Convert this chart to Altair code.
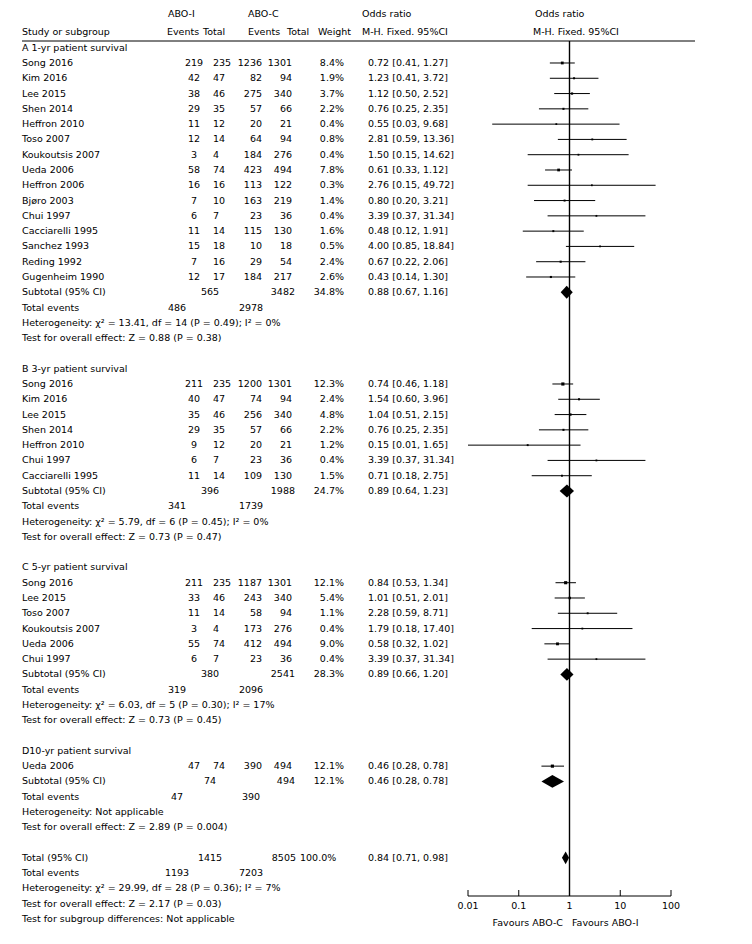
import altair as alt
import pandas as pd

# ---------------- data ----------------
headings = ["A 1-yr patient survival", "B 3-yr patient survival",
            "C 5-yr patient survival", "D10-yr patient survival"]

names_A = ["Song 2016", "Kim 2016", "Lee 2015", "Shen 2014", "Heffron 2010", "Toso 2007",
           "Koukoutsis 2007", "Ueda 2006", "Heffron 2006", "Bjøro 2003", "Chui 1997",
           "Cacciarelli 1995", "Sanchez 1993", "Reding 1992", "Gugenheim 1990"]
ev_i_A = [219, 42, 38, 29, 11, 12, 3, 58, 16, 7, 6, 11, 15, 7, 12]
tot_i_A = [235, 47, 46, 35, 12, 14, 4, 74, 16, 10, 7, 14, 18, 16, 17]
ev_c_A = [1236, 82, 275, 57, 20, 64, 184, 423, 113, 163, 23, 115, 10, 29, 184]
tot_c_A = [1301, 94, 340, 66, 21, 94, 276, 494, 122, 219, 36, 130, 18, 54, 217]
w_A = [8.4, 1.9, 3.7, 2.2, 0.4, 0.8, 0.4, 7.8, 0.3, 1.4, 0.4, 1.6, 0.5, 2.4, 2.6]
or_A = [0.72, 1.23, 1.12, 0.76, 0.55, 2.81, 1.50, 0.61, 2.76, 0.80, 3.39, 0.48, 4.00, 0.67, 0.43]
lo_A = [0.41, 0.41, 0.50, 0.25, 0.03, 0.59, 0.15, 0.33, 0.15, 0.20, 0.37, 0.12, 0.85, 0.22, 0.14]
hi_A = [1.27, 3.72, 2.52, 2.35, 9.68, 13.36, 14.62, 1.12, 49.72, 3.21, 31.34, 1.91, 18.84, 2.06, 1.30]

names_B = ["Song 2016", "Kim 2016", "Lee 2015", "Shen 2014", "Heffron 2010", "Chui 1997",
           "Cacciarelli 1995"]
ev_i_B = [211, 40, 35, 29, 9, 6, 11]
tot_i_B = [235, 47, 46, 35, 12, 7, 14]
ev_c_B = [1200, 74, 256, 57, 20, 23, 109]
tot_c_B = [1301, 94, 340, 66, 21, 36, 130]
w_B = [12.3, 2.4, 4.8, 2.2, 1.2, 0.4, 1.5]
or_B = [0.74, 1.54, 1.04, 0.76, 0.15, 3.39, 0.71]
lo_B = [0.46, 0.60, 0.51, 0.25, 0.01, 0.37, 0.18]
hi_B = [1.18, 3.96, 2.15, 2.35, 1.65, 31.34, 2.75]

names_C = ["Song 2016", "Lee 2015", "Toso 2007", "Koukoutsis 2007", "Ueda 2006", "Chui 1997"]
ev_i_C = [211, 33, 11, 3, 55, 6]
tot_i_C = [235, 46, 14, 4, 74, 7]
ev_c_C = [1187, 243, 58, 173, 412, 23]
tot_c_C = [1301, 340, 94, 276, 494, 36]
w_C = [12.1, 5.4, 1.1, 0.4, 9.0, 0.4]
or_C = [0.84, 1.01, 2.28, 1.79, 0.58, 3.39]
lo_C = [0.53, 0.51, 0.59, 0.18, 0.32, 0.37]
hi_C = [1.34, 2.01, 8.71, 17.40, 1.02, 31.34]

names_D = ["Ueda 2006"]
ev_i_D = [47]
tot_i_D = [74]
ev_c_D = [390]
tot_c_D = [494]
w_D = [12.1]
or_D = [0.46]
lo_D = [0.28]
hi_D = [0.78]

# subtotals: A, B, C, D, Overall
sub_tot_i = [565, 396, 380, 74, 1415]
sub_tot_c = [3482, 1988, 2541, 494, 8505]
sub_w = [34.8, 24.7, 28.3, 12.1, 100.0]
sub_or = [0.88, 0.89, 0.89, 0.46, 0.84]
sub_lo = [0.67, 0.64, 0.66, 0.28, 0.71]
sub_hi = [1.16, 1.23, 1.20, 0.78, 0.98]
te_i = [486, 341, 319, 47, 1193]
te_c = [2978, 1739, 2096, 390, 7203]
het_txt = ["Heterogeneity: χ² = 13.41, df = 14 (P = 0.49); I² = 0%",
           "Heterogeneity: χ² = 5.79, df = 6 (P = 0.45); I² = 0%",
           "Heterogeneity: χ² = 6.03, df = 5 (P = 0.30); I² = 17%",
           "Heterogeneity: Not applicable",
           "Heterogeneity: χ² = 29.99, df = 28 (P = 0.36); I² = 7%"]
test_txt = ["Test for overall effect: Z = 0.88 (P = 0.38)",
            "Test for overall effect: Z = 0.73 (P = 0.47)",
            "Test for overall effect: Z = 0.73 (P = 0.45)",
            "Test for overall effect: Z = 2.89 (P = 0.004)",
            "Test for overall effect: Z = 2.17 (P = 0.03)"]
subgroup_txt = "Test for subgroup differences: Not applicable"

tick_vals = [0.01, 0.1, 1, 10, 100]
tick_labels = ["0.01", "0.1", "1", "10", "100"]

groups = [
    (names_A, ev_i_A, tot_i_A, ev_c_A, tot_c_A, w_A, or_A, lo_A, hi_A),
    (names_B, ev_i_B, tot_i_B, ev_c_B, tot_c_B, w_B, or_B, lo_B, hi_B),
    (names_C, ev_i_C, tot_i_C, ev_c_C, tot_c_C, w_C, or_C, lo_C, hi_C),
    (names_D, ev_i_D, tot_i_D, ev_c_D, tot_c_D, w_D, or_D, lo_D, hi_D),
]

# ---------------- build tables ----------------
texts, cis, dia = [], [], []


def add(row, col, text):
    texts.append(dict(row=row, col=col, text=str(text)))


def ortxt(o, l, h):
    return f"{o:.2f} [{l:.2f}, {h:.2f}]"


def add_diamond(k, row, o, l, h, half=0.42):
    for xv, dy in [(l, 0.0), (o, half), (h, 0.0)]:
        dia.append(dict(g=k, x=xv, y=row - dy, y2=row + dy))


row = 0
for k, (nm, ei, ti, ec, tc, w, o, l, h) in enumerate(groups):
    add(row, "label", headings[k])
    row += 1
    for j in range(len(nm)):
        add(row, "label", nm[j])
        add(row, "ev_i", ei[j])
        add(row, "tot_i", ti[j])
        add(row, "ev_c", ec[j])
        add(row, "tot_c", tc[j])
        add(row, "w", f"{w[j]:.1f}%")
        add(row, "or", ortxt(o[j], l[j], h[j]))
        cis.append(dict(row=row, o=o[j], lo=l[j], hi=h[j], w=w[j]))
        row += 1
    add(row, "label", "Subtotal (95% CI)")
    add(row, "sub_tot_i", sub_tot_i[k])
    add(row, "sub_tot_c", sub_tot_c[k])
    add(row, "w", f"{sub_w[k]:.1f}%")
    add(row, "or", ortxt(sub_or[k], sub_lo[k], sub_hi[k]))
    add_diamond(k, row, sub_or[k], sub_lo[k], sub_hi[k])
    row += 1
    add(row, "label", "Total events")
    add(row, "te_i", te_i[k])
    add(row, "te_c", te_c[k])
    row += 1
    add(row, "label", het_txt[k])
    row += 1
    add(row, "label", test_txt[k])
    row += 2

k = 4
add(row, "label", "Total (95% CI)")
add(row, "sub_tot_i", sub_tot_i[k])
add(row, "tot_tot_c", sub_tot_c[k])
add(row, "tot_w", f"{sub_w[k]:.1f}%")
add(row, "or", ortxt(sub_or[k], sub_lo[k], sub_hi[k]))
add_diamond(k, row, sub_or[k], sub_lo[k], sub_hi[k])
row += 1
add(row, "label", "Total events")
add(row, "te_i", te_i[k])
add(row, "te_c", te_c[k])
row += 1
add(row, "label", het_txt[k])
row += 1
add(row, "label", test_txt[k])
row += 1
add(row, "label", subgroup_txt)
last_row = row

tdf = pd.DataFrame(texts)
cdf = pd.DataFrame(cis)
ddf = pd.DataFrame(dia)
tick_df = pd.DataFrame({"t": tick_vals, "lab": tick_labels})
axis_df = pd.DataFrame({"a": [0.01], "b": [100]})
null_df = pd.DataFrame({"one": [1]})
one = pd.DataFrame({"z": [0]})

# ---------------- layout ----------------
FONT = "DejaVu Sans"
FS = 9.5
OX, OY = 8, 8  # page margin

ysc = alt.Scale(domain=[0, last_row], range=[47.7 - OY, 919 - OY], nice=False, zero=False)
xsc = alt.Scale(type="log", domain=[0.01, 100], range=[468 - OX, 671 - OX], nice=False)

AXIS_Y = 896 - OY

layers = []


def col_layer(key, x, align):
    return (alt.Chart(tdf)
            .transform_filter(alt.datum.col == key)
            .mark_text(align=align, baseline="middle", font=FONT, fontSize=FS, color="black")
            .encode(x=alt.value(x - OX), y=alt.Y("row:Q", scale=ysc, axis=None), text="text:N"))


def label(txt, x, y, align="left"):
    return (alt.Chart(one)
            .mark_text(text=txt, align=align, baseline="middle", font=FONT, fontSize=FS, color="black")
            .encode(x=alt.value(x - OX), y=alt.value(y - OY)))


layers += [
    col_layer("label", 22, "left"),
    col_layer("ev_i", 194, "center"),
    col_layer("tot_i", 213, "left"),
    col_layer("ev_c", 262, "right"),
    col_layer("tot_c", 292, "right"),
    col_layer("w", 344, "right"),
    col_layer("or", 368, "left"),
    col_layer("sub_tot_i", 210, "center"),
    col_layer("sub_tot_c", 295, "right"),
    col_layer("tot_tot_c", 296, "right"),
    col_layer("te_i", 177, "center"),
    col_layer("te_c", 251, "center"),
    col_layer("tot_w", 300, "left"),
]

# header texts
layers += [
    label("ABO-I", 168, 14), label("ABO-C", 248, 14), label("Odds ratio", 362, 14),
    label("Odds ratio", 535, 14),
    label("Study or subgroup", 22, 32), label("Events", 167, 32), label("Total", 203, 32),
    label("Events", 248, 32), label("Total", 287, 32), label("Weight", 318, 32),
    label("M-H. Fixed. 95%CI", 362, 32), label("M-H. Fixed. 95%CI", 533, 32),
    label("Favours ABO-C", 563, 923, "right"), label("Favours ABO-I", 572, 923, "left"),
]

# header rule
layers.append(alt.Chart(one).mark_rule(color="black", strokeWidth=1)
              .encode(x=alt.value(22 - OX), x2=alt.value(695 - OX), y=alt.value(41 - OY)))

# null line at OR = 1
layers.append(alt.Chart(null_df).mark_rule(color="black", strokeWidth=1.4)
              .encode(x=alt.X("one:Q", scale=xsc, axis=None),
                      y=alt.value(41 - OY), y2=alt.value(AXIS_Y)))

# x axis line, ticks and labels (drawn through the log scale)
layers.append(alt.Chart(axis_df).mark_rule(color="black", strokeWidth=1)
              .encode(x=alt.X("a:Q", scale=xsc, axis=None), x2="b:Q", y=alt.value(AXIS_Y)))
layers.append(alt.Chart(tick_df).mark_rule(color="black", strokeWidth=1)
              .encode(x=alt.X("t:Q", scale=xsc, axis=None),
                      y=alt.value(AXIS_Y - 6), y2=alt.value(AXIS_Y)))
layers.append(alt.Chart(tick_df).mark_text(baseline="middle", align="center", font=FONT,
                                          fontSize=FS, color="black")
              .encode(x=alt.X("t:Q", scale=xsc, axis=None), y=alt.value(906 - OY), text="lab:N"))

# confidence intervals and study squares
layers.append(alt.Chart(cdf).mark_rule(color="black", strokeWidth=1)
              .encode(x=alt.X("lo:Q", scale=xsc, axis=None), x2="hi:Q",
                      y=alt.Y("row:Q", scale=ysc, axis=None)))
layers.append(alt.Chart(cdf).mark_square(filled=True, color="black", opacity=1)
              .encode(x=alt.X("o:Q", scale=xsc, axis=None),
                      y=alt.Y("row:Q", scale=ysc, axis=None),
                      size=alt.Size("w:Q", scale=alt.Scale(domain=[0, 12.3], range=[3, 10]), legend=None)))

# diamonds for pooled estimates
layers.append(alt.Chart(ddf).mark_area(color="black", orient="vertical", opacity=1)
              .encode(x=alt.X("x:Q", scale=xsc, axis=None),
                      y=alt.Y("y:Q", scale=ysc, axis=None), y2="y2:Q",
                      detail="g:N"))

chart = (alt.layer(*layers)
         .properties(width=736, height=928, padding=0, autosize="none", background="white")
         .configure_view(strokeWidth=0))

chart.save("out.html", embed_options={"renderer": "svg", "actions": False})
